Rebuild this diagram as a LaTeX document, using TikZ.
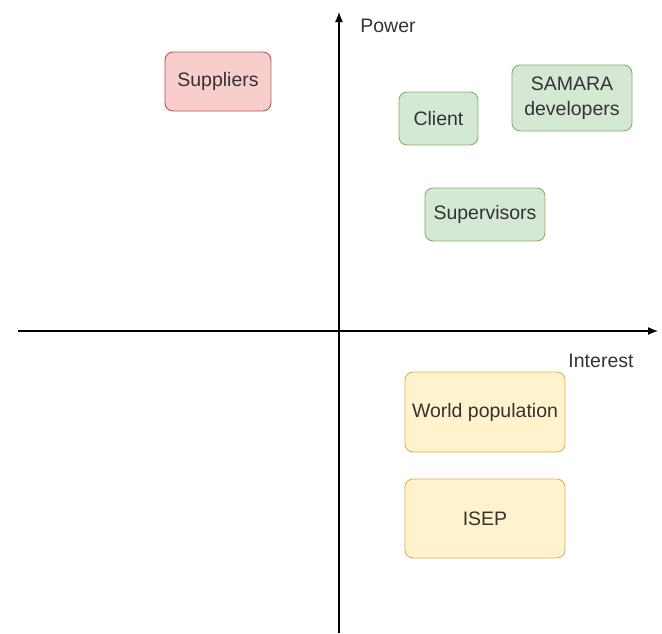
\documentclass[tikz,border=0pt]{standalone}
\usepackage{fontspec}
\setmainfont{Liberation Sans}
\usepackage{xcolor}
\usetikzlibrary{positioning,arrows.meta}

\definecolor{redfill}{HTML}{F8CECC}
\definecolor{redline}{HTML}{B85450}
\definecolor{grnfill}{HTML}{D5E8D4}
\definecolor{grnline}{HTML}{82B366}
\definecolor{ylwfill}{HTML}{FFF2CC}
\definecolor{ylwline}{HTML}{D6B656}
\definecolor{txt}{HTML}{333333}

\begin{document}
\begin{tikzpicture}[x=1pt,y=1pt,font=\fontsize{19.5}{25}\selectfont,on grid,
  >={Latex[length=10pt,width=8pt]},
  bx/.style={draw,rounded corners=8pt,line width=0.9pt,text=txt,align=center,inner sep=0pt},
  hibox/.style={bx,fill=redfill,draw=redline},
  grbox/.style={bx,fill=grnfill,draw=grnline},
  ylbox/.style={bx,fill=ylwfill,draw=ylwline}]
\useasboundingbox (-339,-302) rectangle (323,331);
\coordinate (O) at (0,0);
% axes
\coordinate[left=321pt of O] (xl);
\coordinate[right=319pt of O] (xr);
\coordinate[below=302pt of O] (yb);
\coordinate[above=319pt of O] (yt);
\draw[->,line width=1.3pt] (xl) -- (xr);
\draw[->,line width=1.3pt] (yb) -- (yt);
\node[text=txt,above right=305pt and 49pt of O,anchor=center] (pw) {Power};
\node[text=txt,below right=30pt and 262pt of O,anchor=center] (it) {Interest};
% stakeholders
\node[hibox,minimum width=106pt,minimum height=59pt,above left=249.5pt and 121pt of O,anchor=center] (sup) {Suppliers};
\node[grbox,minimum width=79pt,minimum height=53pt,above right=212.5pt and 99.5pt of O,anchor=center] (cli) {Client};
\node[grbox,minimum width=120pt,minimum height=66pt,above right=233pt and 233pt of O,anchor=center] (dev) {SAMARA\\developers};
\node[grbox,minimum width=120pt,minimum height=53pt,above right=116.5pt and 146pt of O,anchor=center] (svs) {Supervisors};
\node[ylbox,minimum width=160pt,minimum height=80pt,below right=81pt and 146pt of O,anchor=center] (pop) {World population};
\node[ylbox,minimum width=160pt,minimum height=79pt,below=106.5pt of pop] (isep) {ISEP};
\end{tikzpicture}
\end{document}
